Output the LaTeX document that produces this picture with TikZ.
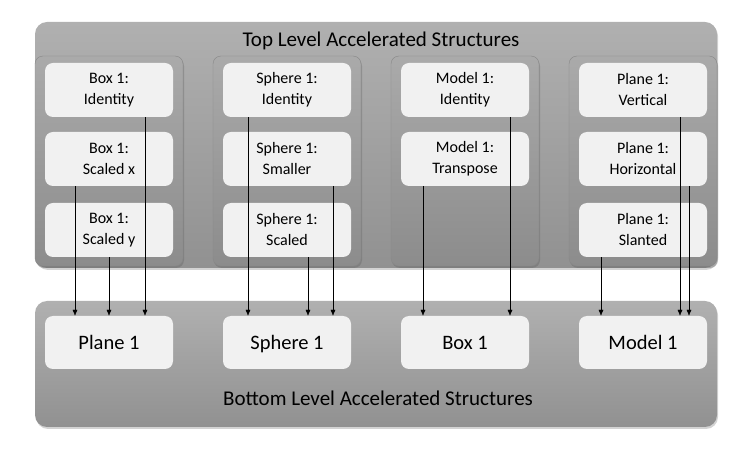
\documentclass[tikz,border=0pt]{standalone}
\usepackage{fontspec}
\setmainfont{Carlito}
\usetikzlibrary{shadows,arrows.meta}
\definecolor{grisHaut}{HTML}{B0B0B0}
\definecolor{grisBas}{HTML}{919191}
\definecolor{grisGrpHaut}{HTML}{AAAAAA}
\definecolor{grisGrpBas}{HTML}{8C8C8C}
\definecolor{grisBord}{HTML}{888888}
\definecolor{grisClair}{HTML}{F1F1F1}
\begin{document}
\begin{tikzpicture}[x=1pt,y=-1pt]
% Styles
\tikzstyle{fond}=[rounded corners=12pt,top color=grisHaut,bottom color=grisBas,
  drop shadow={shadow xshift=1pt,shadow yshift=-2pt,opacity=0.35,fill=gray}]
\tikzstyle{groupe}=[draw=grisBord,rounded corners=8pt,top color=grisGrpHaut,bottom color=grisGrpBas,
  drop shadow={shadow xshift=1pt,shadow yshift=-2pt,opacity=0.4,fill=gray!80!black}]
\tikzstyle{boite}=[rounded corners=8pt,fill=grisClair,minimum width=128pt,minimum height=54pt,
  align=center,inner sep=0pt,font=\fontsize{16}{21}\selectfont]
\tikzstyle{socle}=[boite,minimum height=53pt,text height=15pt,text depth=0pt,font=\fontsize{20.5}{24}\selectfont]
\tikzstyle{titre}=[text height=14pt,text depth=4pt,font=\fontsize{21}{24}\selectfont]
\tikzstyle{fleche}=[->,>={Latex[length=6pt,width=5pt]},thin]
% Dimensions
\def\Lrg{178}
\def\Gx{109}
\def\Dg{74}
% Cadre : Top Level
\useasboundingbox (0,0) rectangle (748,454);
\path[fond] (35,22) rectangle (717,268);
\node[titre] (titreHaut) at (381,42) {Top Level Accelerated Structures};
\path[groupe] ({\Gx+0*\Lrg-\Dg},56) rectangle ({\Gx+0*\Lrg+\Dg},266);
\path[groupe] ({\Gx+1*\Lrg-\Dg},56) rectangle ({\Gx+1*\Lrg+\Dg},266);
\path[groupe] ({\Gx+2*\Lrg-\Dg},56) rectangle ({\Gx+2*\Lrg+\Dg},266);
\path[groupe] ({\Gx+3*\Lrg-\Dg},56) rectangle ({\Gx+3*\Lrg+\Dg},266);
% Colonne : Box
\node[boite] (b1) at ({\Gx+0*\Lrg},90) {Box 1:\\Identity};
\node[boite] (b2) at ({\Gx+0*\Lrg},159) {Box 1:\\Scaled x};
\node[boite] (b3) at ({\Gx+0*\Lrg},230) {Box 1:\\Scaled y};
% Colonne : Sphere
\node[boite] (s1) at ({\Gx+1*\Lrg},90) {Sphere 1:\\Identity};
\node[boite] (s2) at ({\Gx+1*\Lrg},159) {Sphere 1:\\Smaller};
\node[boite] (s3) at ({\Gx+1*\Lrg},230) {Sphere 1:\\Scaled};
% Colonne : Model
\node[boite] (m1) at ({\Gx+2*\Lrg},90) {Model 1:\\Identity};
\node[boite] (m2) at ({\Gx+2*\Lrg},159) {Model 1:\\Transpose};
% Colonne : Plane
\node[boite] (p1) at ({\Gx+3*\Lrg},90) {Plane 1:\\Vertical};
\node[boite] (p2) at ({\Gx+3*\Lrg},159) {Plane 1:\\Horizontal};
\node[boite] (p3) at ({\Gx+3*\Lrg},230) {Plane 1:\\Slanted};
% Cadre : Bottom Level
\path[fond] (35,301) rectangle (717,427);
\node[socle] (plan) at ({\Gx+0*\Lrg},342.5) {Plane 1};
\node[socle] (sphere) at ({\Gx+1*\Lrg},342.5) {Sphere 1};
\node[socle] (boite) at ({\Gx+2*\Lrg},342.5) {Box 1};
\node[socle] (modele) at ({\Gx+3*\Lrg},342.5) {Model 1};
\node[titre] (titreBas) at (378,401) {Bottom Level Accelerated Structures};
% Flèches
\draw[fleche] ([xshift=36pt]b1.south) -- ([xshift=36pt]plan.north);
\draw[fleche] ([xshift=-34pt]b2.south) -- ([xshift=-34pt]plan.north);
\draw[fleche] ([xshift=0pt]b3.south) -- ([xshift=0pt]plan.north);
\draw[fleche] ([xshift=-39pt]s1.south) -- ([xshift=-39pt]sphere.north);
\draw[fleche] ([xshift=46pt]s2.south) -- ([xshift=46pt]sphere.north);
\draw[fleche] ([xshift=21pt]s3.south) -- ([xshift=21pt]sphere.north);
\draw[fleche] ([xshift=45pt]m1.south) -- ([xshift=45pt]boite.north);
\draw[fleche] ([xshift=-42pt]m2.south) -- ([xshift=-42pt]boite.north);
\draw[fleche] ([xshift=37pt]p1.south) -- ([xshift=37pt]modele.north);
\draw[fleche] ([xshift=46pt]p2.south) -- ([xshift=46pt]modele.north);
\draw[fleche] ([xshift=-42pt]p3.south) -- ([xshift=-42pt]modele.north);
\end{tikzpicture}
\end{document}
